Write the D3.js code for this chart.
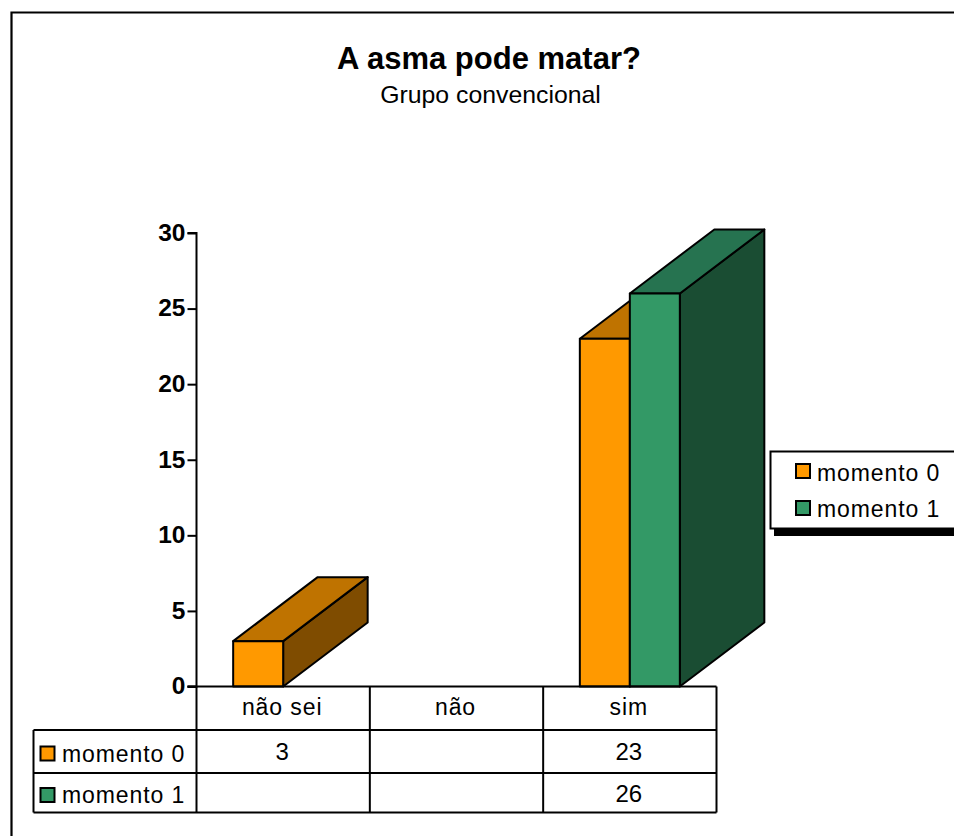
<!DOCTYPE html>
<html lang="pt">
<head>
<meta charset="utf-8">
<title>A asma pode matar?</title>
<script src="https://cdn.jsdelivr.net/npm/d3@7"></script>
<style>
  html, body { margin: 0; padding: 0; background: #fff; }
  svg { display: block; font-family: "Liberation Sans", Arial, sans-serif; }
  text { fill: #000; }
</style>
</head>
<body>
<svg id="chart" width="954" height="836"></svg>
<script>
const titleText = "A asma pode matar?";
const subtitleText = "Grupo convencional";
const categories = ["não sei", "não", "sim"];
const seriesNames = ["momento 0", "momento 1"];
const momento0 = [3, null, 23];
const momento1 = [null, null, 26];
const yTicks = [0, 5, 10, 15, 20, 25, 30];
const faceColors = ["#FF9900", "#339966"];
const topColors = ["#BF7300", "#267350"];
const sideColors = ["#7F4C00", "#1A4D33"];

const seriesValues = [momento0, momento1];
const svg = d3.select("#chart");

const y = d3.scaleLinear().domain([0, 30]).range([686.5, 233]);
const x = d3.scaleBand().domain(categories).range([196.5, 716.5]);
const barWidth = 50;
const depthX = 84.5;
const depthY = 64;
const lineColor = "#000";
const strokeWeight = 2;
const labelFont = 23;

// Outer frame: the bottom and right edges fall outside the page
svg.append("path")
  .attr("d", "M11.5,840V12.5H960")
  .attr("fill", "none").attr("stroke", lineColor).attr("stroke-width", 2.2);

svg.append("text").attr("x", 489).attr("y", 69)
  .attr("text-anchor", "middle").attr("font-size", 31).attr("font-weight", "bold")
  .text(titleText);
svg.append("text").attr("x", 490.5).attr("y", 103)
  .attr("text-anchor", "middle").attr("font-size", 24.8)
  .text(subtitleText);

// Value axis
const yAxis = svg.append("g")
  .attr("transform", "translate(196.5,0)")
  .call(d3.axisLeft(y).tickValues(yTicks).tickSize(9).tickPadding(2));
yAxis.selectAll("path, line").attr("stroke", lineColor).attr("stroke-width", strokeWeight);
yAxis.select(".domain").attr("d", `M-9,${y(30)}H0V${y(0)}H-9`);
yAxis.selectAll("text")
  .attr("font-family", "Liberation Sans, Arial, sans-serif")
  .attr("font-size", 24.5).attr("font-weight", "bold").attr("fill", "#000")
  .attr("dy", "0.3em");

// 3D columns, drawn left to right so nearer faces overlap their neighbours
const bars = [];
categories.forEach((cat, c) => {
  seriesValues.forEach((vals, s) => {
    if (vals[c] !== null) bars.push({ cat, s, value: vals[c] });
  });
});

const barGroups = svg.append("g").selectAll("g").data(bars).join("g")
  .attr("stroke", lineColor).attr("stroke-width", strokeWeight).attr("stroke-linejoin", "round");

const centre = d => x(d.cat) + x.bandwidth() / 2;
const left = d => centre(d) - barWidth + d.s * barWidth;
const poly = pts => "M" + pts.map(p => p.join(",")).join("L") + "Z";

barGroups.append("path").attr("fill", d => sideColors[d.s]).attr("d", d => {
  const r = left(d) + barWidth, t = y(d.value), b = y(0);
  return poly([[r, t], [r + depthX, t - depthY], [r + depthX, b - depthY], [r, b]]);
});
barGroups.append("path").attr("fill", d => topColors[d.s]).attr("d", d => {
  const l = left(d), r = l + barWidth, t = y(d.value);
  return poly([[l, t], [l + depthX, t - depthY], [r + depthX, t - depthY], [r, t]]);
});
barGroups.append("rect").attr("fill", d => faceColors[d.s])
  .attr("x", left).attr("y", d => y(d.value))
  .attr("width", barWidth).attr("height", d => y(0) - y(d.value));

// Data table below the plot
const rowEdges = [686.5, 730, 773, 812.5];
const tableLeft = 33.5;
const tableRight = x.range()[1];
const colEdges = categories.map(c => x(c)).concat(tableRight);
const table = svg.append("g").attr("stroke", lineColor).attr("stroke-width", strokeWeight);

table.selectAll("line.h").data(rowEdges).join("line")
  .attr("x1", (d, i) => i === 0 ? x.range()[0] - 9 : tableLeft)
  .attr("x2", tableRight).attr("y1", d => d).attr("y2", d => d);
table.selectAll("line.v").data(colEdges).join("line")
  .attr("x1", d => d).attr("x2", d => d)
  .attr("y1", rowEdges[0]).attr("y2", rowEdges[3]);
table.append("line")
  .attr("x1", tableLeft).attr("x2", tableLeft)
  .attr("y1", rowEdges[1]).attr("y2", rowEdges[3]);

const tableText = svg.append("g").attr("font-size", labelFont).attr("text-anchor", "middle");
categories.forEach(c => {
  tableText.append("text").attr("x", x(c) + x.bandwidth() / 2 - 1).attr("y", 715)
    .attr("letter-spacing", 0.9).text(c);
});
seriesValues.forEach((vals, s) => {
  vals.forEach((v, c) => {
    if (v === null) return;
    tableText.append("text")
      .attr("x", x(categories[c]) + x.bandwidth() / 2 - 1)
      .attr("y", [760, 802][s]).attr("font-size", 24).text(v);
  });
});

const swatch = (g, sx, sy, s) => g.append("rect")
  .attr("x", sx).attr("y", sy).attr("width", 14).attr("height", 14)
  .attr("fill", faceColors[s]).attr("stroke", lineColor).attr("stroke-width", strokeWeight);

seriesNames.forEach((name, s) => {
  swatch(svg, 40.5, [746.5, 788][s], s);
  svg.append("text").attr("x", 62).attr("y", [762, 803][s])
    .attr("font-size", labelFont).attr("letter-spacing", 0.9).text(name);
});

// Legend box with its heavy drop shadow
svg.append("rect").attr("x", 774).attr("y", 529).attr("width", 190).attr("height", 7).attr("fill", "#000");
svg.append("rect").attr("x", 770.5).attr("y", 451.5).attr("width", 200).attr("height", 77)
  .attr("fill", "#fff").attr("stroke", lineColor).attr("stroke-width", strokeWeight);
seriesNames.forEach((name, s) => {
  swatch(svg, 796, [464, 501][s], s);
  svg.append("text").attr("x", 817).attr("y", [481, 517][s])
    .attr("font-size", labelFont).attr("letter-spacing", 0.9).text(name);
});
</script>
</body>
</html>
